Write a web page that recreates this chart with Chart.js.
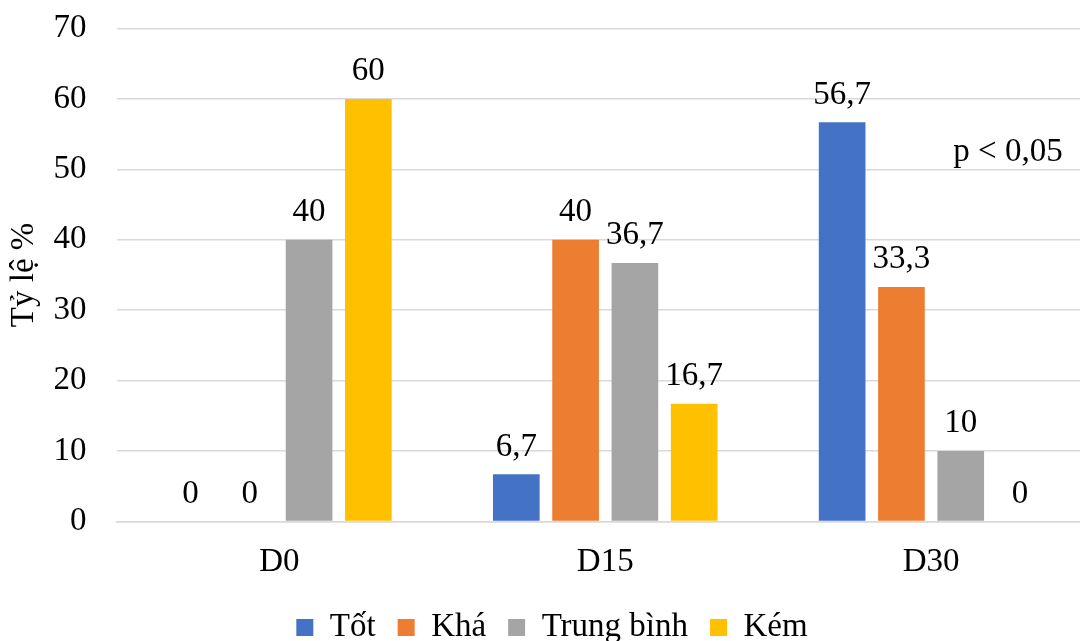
<!DOCTYPE html>
<html>
<head>
<meta charset="utf-8">
<script src="https://cdn.jsdelivr.net/npm/chart.js@4/dist/chart.umd.min.js"></script>
<style>
  html, body { margin: 0; padding: 0; background: #ffffff; }
  #wrap { width: 1080px; height: 641px; position: relative; }
</style>
</head>
<body>
<div id="wrap"><canvas id="c" width="1080" height="641"></canvas></div>
<script>
// Survey groups and the share (%) of each rating level
const categories = ['D0', 'D15', 'D30'];
const seriesNames = ['Tốt', 'Khá', 'Trung bình', 'Kém'];
const tot = [0, 6.7, 56.7];
const kha = [0, 40, 33.3];
const trungBinh = [40, 36.7, 10];
const kem = [60, 16.7, 0];
const yTicks = [0, 10, 20, 30, 40, 50, 60, 70];
const yTitle = 'Tỷ lệ %';
const note = 'p < 0,05';

const colors = ['#4472C4', '#ED7D31', '#A5A5A5', '#FFC000'];
const FONT = "'Liberation Serif', 'Times New Roman', serif";

const fmt = v => String(v).replace('.', ',');

// The plot runs a little past the right edge of the canvas;
// the legend stays centred on the widened plot
const widenPlot = {
  id: 'widenPlot',
  afterLayout(chart) {
    const extra = 14;
    const x = chart.scales.x;
    x.right += extra;
    x.width += extra;
    x.configure();
    chart.chartArea.right += extra;
    chart.chartArea.width += extra;
    if (chart.legend) {
      chart.legend.left += 12;
      chart.legend.right += 12;
    }
  }
};

// Values printed above each bar, plus the significance note
const valueLabels = {
  id: 'valueLabels',
  afterDatasetsDraw(chart) {
    const ctx = chart.ctx;
    ctx.save();
    ctx.font = '33px ' + FONT;
    ctx.fillStyle = '#000000';
    ctx.textAlign = 'center';
    ctx.textBaseline = 'alphabetic';
    chart.data.datasets.forEach((ds, i) => {
      const meta = chart.getDatasetMeta(i);
      meta.data.forEach((bar, j) => {
        ctx.fillText(fmt(ds.data[j]), bar.x, bar.y - 18.5);
      });
    });
    const area = chart.chartArea;
    ctx.fillText(note, area.right - 86, area.top + 132);
    ctx.restore();
  }
};

new Chart(document.getElementById('c'), {
  type: 'bar',
  data: {
    labels: categories,
    datasets: [tot, kha, trungBinh, kem].map((d, i) => ({
      label: seriesNames[i],
      data: d,
      backgroundColor: colors[i],
      borderWidth: 0,
      barPercentage: 0.787,
      categoryPercentage: 0.728
    }))
  },
  options: {
    responsive: false,
    animation: false,
    devicePixelRatio: 1,
    layout: { padding: { top: 28.5, right: 0, bottom: -13, left: 0 } },
    plugins: {
      legend: {
        position: 'bottom',
        labels: {
          font: { family: FONT, size: 33 },
          color: '#000000',
          boxWidth: 17,
          boxHeight: 17,
          padding: 22
        }
      },
      tooltip: { enabled: false }
    },
    scales: {
      x: {
        afterFit(scale) {
          scale.height -= 14;
          scale.paddingLeft = 0;
          scale.paddingRight = 0;
        },
        grid: { display: false, drawTicks: false },
        border: { display: true, color: '#d9d9d9', width: 1.5 },
        ticks: {
          font: { family: FONT, size: 33 },
          color: '#000000',
          padding: 21
        }
      },
      y: {
        min: 0,
        max: 70,
        afterBuildTicks(scale) {
          scale.ticks = yTicks.map(v => ({ value: v }));
        },
        afterFit(scale) {
          scale.width = 116.5;
          scale.paddingTop = 0;
          scale.paddingBottom = 0;
        },
        grid: { color: '#d9d9d9', lineWidth: 1.5, drawTicks: false },
        border: { display: false },
        ticks: {
          font: { family: FONT, size: 33 },
          color: '#000000',
          padding: 30
        },
        title: {
          display: true,
          text: yTitle,
          font: { family: FONT, size: 33 },
          color: '#000000',
          padding: { top: 5, bottom: 0 }
        }
      }
    }
  },
  plugins: [widenPlot, valueLabels]
});
</script>
</body>
</html>
